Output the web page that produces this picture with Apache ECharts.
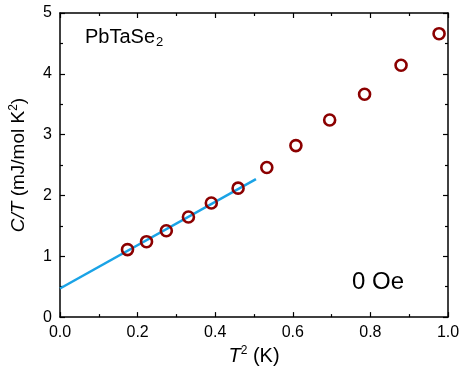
<!DOCTYPE html>
<html>
<head>
<meta charset="utf-8">
<script src="https://cdn.jsdelivr.net/npm/echarts@6/dist/echarts.min.js"></script>
<style>
  html, body { margin: 0; padding: 0; background: #fff; }
  #chart { width: 463px; height: 371px; }
</style>
</head>
<body>
<div id="chart"></div>
<script>
// T^2 (K) and C/T (mJ/mol K^2)
var tSquared = [0.174, 0.223, 0.274, 0.331, 0.390, 0.459, 0.533, 0.608, 0.695, 0.785, 0.879, 0.977];
var cOverT   = [1.11, 1.24, 1.42, 1.645, 1.875, 2.12, 2.46, 2.82, 3.24, 3.665, 4.14, 4.66];

// linear fit, end points
var fitX = [0, 0.505];
var fitY = [0.47, 2.27];

var font = 'Liberation Sans, Arial, sans-serif';

var chart = echarts.init(document.getElementById('chart'));

var points = tSquared.map(function (x, i) { return [x, cOverT[i]]; });
var fitLine = fitX.map(function (x, i) { return [x, fitY[i]]; });

// box axes: ticks point into the plot
function frameAxis(pos, isX) {
    return {
        type: 'value',
        position: pos,
        min: 0,
        max: isX ? 1 : 5,
        interval: isX ? 0.2 : 1,
        axisLine: { show: true, onZero: false, lineStyle: { color: '#000', width: 1.5 } },
        axisTick: { show: true, inside: true, length: 5, lineStyle: { color: '#000', width: 1.2 } },
        minorTick: { show: true, splitNumber: 2, length: 3, lineStyle: { color: '#000', width: 1.2 } },
        splitLine: { show: false },
        axisLabel: { show: false }
    };
}

var xMain = frameAxis('bottom', true);
xMain.axisLabel = {
    show: true, margin: 7, color: '#000', fontSize: 16, fontFamily: font,
    formatter: function (v) { return v.toFixed(1); }
};
xMain.name = '{i|T}{s|2} (K)';
xMain.nameLocation = 'middle';
xMain.nameGap = 26;
xMain.nameTextStyle = {
    color: '#000', fontSize: 20, fontFamily: font,
    rich: {
        i: { fontStyle: 'italic', fontSize: 20, fontFamily: font, color: '#000' },
        s: { fontSize: 12, fontFamily: font, color: '#000', verticalAlign: 'top', padding: [0, 0, 10, 0] }
    }
};

var yMain = frameAxis('left', false);
yMain.axisLabel = { show: true, margin: 8, color: '#000', fontSize: 16, fontFamily: font };
yMain.name = '{i|C/T} (mJ/mol K{s|2})';
yMain.nameLocation = 'middle';
yMain.nameRotate = 90;
yMain.nameGap = 30;
yMain.nameTextStyle = {
    color: '#000', fontSize: 19, fontFamily: font,
    rich: {
        i: { fontStyle: 'italic', fontSize: 19, fontFamily: font, color: '#000' },
        s: { fontSize: 12, fontFamily: font, color: '#000', padding: [0, 0, 10, 0] }
    }
};

var xTop = frameAxis('top', true);
var yRight = frameAxis('right', false);

var option = {
    animation: false,
    grid: { left: 58, right: 15, top: 13, bottom: 51 },
    xAxis: [xMain, xTop],
    yAxis: [yMain, yRight],
    series: [
        {
            type: 'line',
            data: fitLine,
            symbol: 'none',
            lineStyle: { color: '#1aa3e6', width: 2.5 },
            z: 3
        },
        {
            type: 'scatter',
            data: points,
            symbol: 'circle',
            symbolSize: 11,
            itemStyle: { color: 'rgba(255,255,255,0)', borderColor: '#8b0000', borderWidth: 2.6, opacity: 1 },
            z: 4
        }
    ],
    graphic: [
        {
            type: 'text',
            left: 85,
            top: 27,
            style: {
                text: '{a|PbTaSe}{b|2}',
                rich: {
                    a: { fontSize: 20, fontFamily: font, fill: '#000' },
                    b: { fontSize: 13, fontFamily: font, fill: '#000', padding: [11, 0, 0, 1] }
                }
            }
        },
        {
            type: 'text',
            left: 352,
            top: 270,
            style: { text: '0 Oe', fontSize: 24, fontFamily: font, fill: '#000' }
        }
    ]
};

chart.setOption(option);
</script>
</body>
</html>
